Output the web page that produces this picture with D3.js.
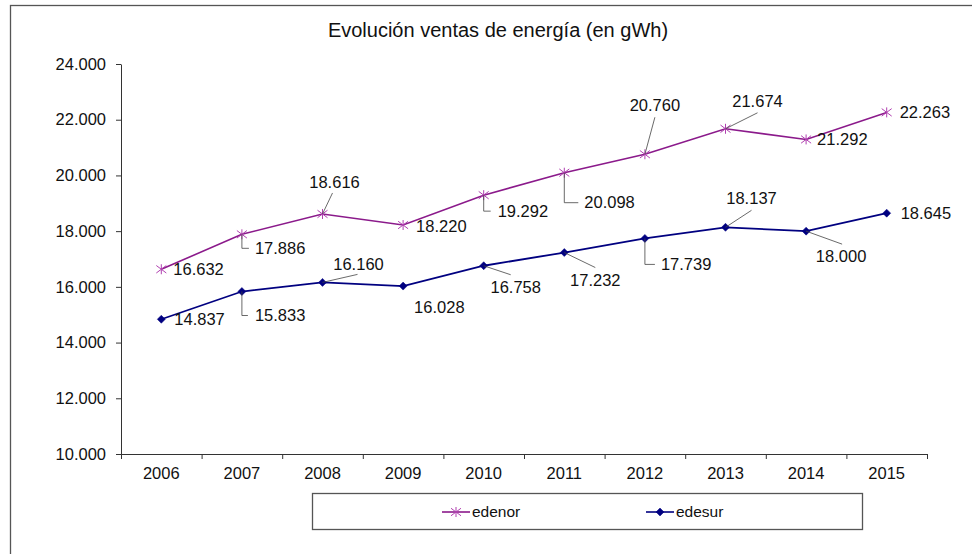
<!DOCTYPE html>
<html>
<head>
<meta charset="utf-8">
<script src="https://cdn.jsdelivr.net/npm/d3@7"></script>
<style>
  body { margin: 0; background: #fff; }
  svg { display: block; font-family: "Liberation Sans", Arial, sans-serif; }
</style>
</head>
<body>
<div id="app"></div>
<script>
const years = ["2006", "2007", "2008", "2009", "2010", "2011", "2012", "2013", "2014", "2015"];
const edenor = [16632, 17886, 18616, 18220, 19292, 20098, 20760, 21674, 21292, 22263];
const edesur = [14837, 15833, 16160, 16028, 16758, 17232, 17739, 18137, 18000, 18645];
const yTicks = [10000, 12000, 14000, 16000, 18000, 20000, 22000, 24000];
const seriesNames = ["edenor", "edesur"];

// label placement, pixels from the point: text offset, and optional leader line
// elbow = [down, across], slant = [dx, dy] end of the leader
const edenorLabels = [
  { dx: 12, dy: 0 },
  { dx: 13, dy: 14, elbow: [14, 7] },
  { dx: 12, dy: -32, mid: true, slant: [10, -21] },
  { dx: 13, dy: 1 },
  { dx: 14, dy: 16, elbow: [16, 7] },
  { dx: 20, dy: 30, elbow: [30, 14] },
  { dx: 10, dy: -49, mid: true, slant: [10, -37] },
  { dx: 32, dy: -28, mid: true, slant: [32, -16] },
  { dx: 11, dy: 0 },
  { dx: 13, dy: 0 }
];
const edesurLabels = [
  { dx: 13, dy: 0 },
  { dx: 13, dy: 24, elbow: [24, 6] },
  { dx: 36, dy: -18, mid: true, slant: [35, -8] },
  { dx: 11, dy: 21 },
  { dx: 32, dy: 21, mid: true, slant: [27, 9] },
  { dx: 31, dy: 28, mid: true, slant: [31, 15] },
  { dx: 16, dy: 26, elbow: [26, 10] },
  { dx: 26, dy: -29, mid: true, slant: [26, -17] },
  { dx: 35, dy: 25, mid: true, slant: [36, 13] },
  { dx: 14, dy: 0 }
];

const W = 972, H = 554;
const plot = { left: 121, right: 927, top: 64, bottom: 454 };
const purple = "#8b1a8b", purpleMark = "#b040b0", navy = "#000080";

const fmt = d3.formatLocale({ decimal: ",", thousands: ".", grouping: [3], currency: ["", ""] }).format(",.0f");

const svg = d3.select("#app").append("svg").attr("width", W).attr("height", H);

// chart frame (runs past the right and bottom edges)
svg.append("rect")
  .attr("x", 10.5).attr("y", 5.5).attr("width", 1000).attr("height", 600)
  .attr("fill", "none").attr("stroke", "#555").attr("stroke-width", 1.3);

svg.append("text")
  .attr("x", 498).attr("y", 37)
  .attr("text-anchor", "middle").attr("font-size", 20).attr("fill", "#111")
  .text("Evolución ventas de energía (en gWh)");

const x = d3.scaleBand().domain(years).range([plot.left, plot.right]).padding(0);
const y = d3.scaleLinear().domain([10000, 24000]).range([plot.bottom, plot.top]);
const cx = d => x(d) + x.bandwidth() / 2;

// y axis
const yAxis = svg.append("g")
  .attr("transform", `translate(${plot.left},0)`)
  .call(d3.axisLeft(y).tickValues(yTicks).tickFormat(fmt).tickSize(5).tickPadding(10).tickSizeOuter(0));
yAxis.selectAll("text").attr("font-size", 16.5).attr("fill", "#111").attr("font-family", null);

// x axis: labels at centers, ticks on category boundaries
const xAxis = svg.append("g")
  .attr("transform", `translate(0,${plot.bottom})`)
  .call(d3.axisBottom(x).tickSize(0).tickPadding(13));
xAxis.selectAll("text").attr("font-size", 16.5).attr("fill", "#111").attr("font-family", null);
xAxis.select(".domain").remove();

const bounds = d3.scaleLinear().domain([0, years.length]).range([plot.left, plot.right]);
svg.append("g")
  .attr("transform", `translate(0,${plot.bottom})`)
  .call(d3.axisBottom(bounds).ticks(years.length).tickFormat("").tickSize(5).tickSizeOuter(5));

svg.selectAll(".domain, .tick line").attr("stroke", "#333");

const lineGen = d3.line().x((d, i) => cx(years[i])).y(d => y(d));

function asterisk(sel, r) {
  sel.append("path")
    .attr("d", `M0,${-r}V${r}M${-r},${-r * 0.75}L${r},${r * 0.75}M${-r},${r * 0.75}L${r},${-r * 0.75}`)
    .attr("stroke", purpleMark).attr("stroke-width", 1).attr("fill", "none");
}
function diamond(sel, r) {
  sel.append("path")
    .attr("d", `M0,${-r}L${r},0L0,${r}L${-r},0Z`)
    .attr("fill", navy).attr("stroke", navy).attr("stroke-width", 0.5);
}

function drawSeries(values, color, width, marker, labels) {
  const g = svg.append("g");
  g.append("path").datum(values)
    .attr("d", lineGen).attr("fill", "none")
    .attr("stroke", color).attr("stroke-width", width);

  g.selectAll(".mk").data(values).enter().append("g")
    .attr("transform", (d, i) => `translate(${cx(years[i])},${y(d)})`)
    .each(function () { marker(d3.select(this), marker === diamond ? 4 : 5); });

  values.forEach((v, i) => {
    const px = cx(years[i]), py = y(v), l = labels[i];
    if (l.elbow) {
      g.append("path")
        .attr("d", `M${px},${py}V${py + l.elbow[0]}H${px + l.elbow[1]}`)
        .attr("fill", "none").attr("stroke", "#444").attr("stroke-width", 0.8);
    }
    if (l.slant) {
      g.append("line")
        .attr("x1", px).attr("y1", py)
        .attr("x2", px + l.slant[0]).attr("y2", py + l.slant[1])
        .attr("stroke", "#444").attr("stroke-width", 0.8);
    }
    g.append("text")
      .attr("x", px + l.dx).attr("y", py + l.dy).attr("dy", "0.35em")
      .attr("text-anchor", l.mid ? "middle" : "start")
      .attr("font-size", 16.5).attr("fill", "#111")
      .text(fmt(v));
  });
}

drawSeries(edenor, purple, 1.6, asterisk, edenorLabels);
drawSeries(edesur, navy, 1.8, diamond, edesurLabels);

// legend
const legend = svg.append("g");
legend.append("rect")
  .attr("x", 312.5).attr("y", 493.5).attr("width", 550).attr("height", 36)
  .attr("fill", "#fff").attr("stroke", "#555").attr("stroke-width", 1.3);

const legendItems = [
  { name: seriesNames[0], color: purple, marker: asterisk, x0: 442 },
  { name: seriesNames[1], color: navy, marker: diamond, x0: 646 }
];
legendItems.forEach(it => {
  const gi = legend.append("g").attr("transform", `translate(${it.x0},512)`);
  gi.append("line").attr("x1", 0).attr("x2", 28).attr("stroke", it.color).attr("stroke-width", 1.6);
  const m = gi.append("g").attr("transform", "translate(14,0)");
  it.marker(m, it.marker === diamond ? 4 : 5);
  gi.append("text").attr("x", 30).attr("dy", "0.35em").attr("font-size", 15.5).attr("fill", "#111").text(it.name);
});
</script>
</body>
</html>
